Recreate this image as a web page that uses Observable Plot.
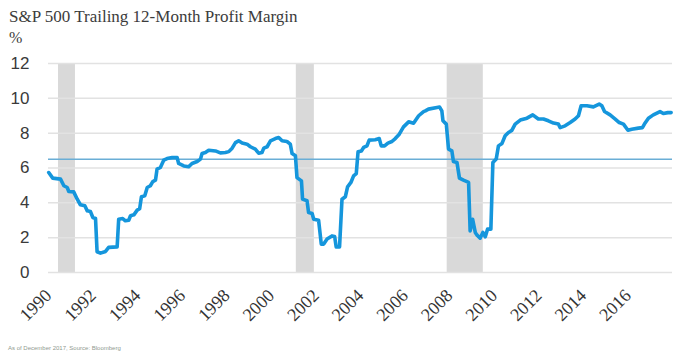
<!DOCTYPE html>
<html>
<head>
<meta charset="utf-8">
<script src="https://cdn.jsdelivr.net/npm/d3@7"></script>
<script src="https://cdn.jsdelivr.net/npm/@observablehq/plot@0.6"></script>
<style>
  html, body { margin: 0; padding: 0; background: #fff; }
  #wrap { width: 698px; height: 356px; position: relative; overflow: hidden; }
  #head { height: 48px; padding-left: 9px; font-family: "Liberation Serif", serif; color: #3c3c3c; }
  #title { font-size: 17px; line-height: 16px; padding-top: 9px; }
  #unit { font-size: 16px; line-height: 16px; padding-top: 5px; }
  #note { font-family: "Liberation Sans", sans-serif; font-size: 6px; color: #8f9a8f; padding-left: 8px; padding-top: 6px; line-height: 8px; }
  svg { display: block; }
</style>
</head>
<body>
<div id="wrap">
  <div id="head"><div id="title"></div><div id="unit"></div></div>
  <div id="chart"></div>
  <div id="note"></div>
</div>
<script>
const titleText = "S&P 500 Trailing 12-Month Profit Margin";
const unitText = "%";
const noteText = "As of December 2017, Source: Bloomberg";

const years = [
  1990.01, 1990.19, 1990.54, 1990.69, 1990.84, 1990.91, 1991.13, 1991.29, 1991.43, 1991.63,
  1991.74, 1991.88, 1991.99, 1992.11, 1992.18, 1992.33, 1992.56, 1992.70, 1993.08, 1993.15,
  1993.33, 1993.45, 1993.60, 1993.68, 1993.83, 1993.98, 1994.09, 1994.17, 1994.32, 1994.43,
  1994.57, 1994.68, 1994.80, 1994.87, 1995.02, 1995.17, 1995.32, 1995.55, 1995.77, 1995.84,
  1996.07, 1996.29, 1996.44, 1996.67, 1996.82, 1996.89, 1997.04, 1997.19, 1997.49, 1997.71,
  1997.94, 1998.09, 1998.24, 1998.39, 1998.53, 1998.69, 1998.91, 1999.06, 1999.28, 1999.43,
  1999.58, 1999.66, 1999.81, 1999.96, 2000.18, 2000.33, 2000.48, 2000.70, 2000.85, 2000.93,
  2001.08, 2001.15, 2001.35, 2001.40, 2001.60, 2001.67, 2001.83, 2001.90, 2002.12, 2002.24,
  2002.35, 2002.50, 2002.72, 2002.84, 2002.91, 2003.06, 2003.17, 2003.32, 2003.42, 2003.57,
  2003.69, 2003.81, 2003.89, 2004.04, 2004.14, 2004.29, 2004.39, 2004.66, 2004.84, 2004.93,
  2005.08, 2005.23, 2005.41, 2005.56, 2005.74, 2005.93, 2006.16, 2006.38, 2006.61, 2006.83,
  2006.91, 2007.05, 2007.43, 2007.55, 2007.65, 2007.70, 2007.85, 2007.95, 2008.10, 2008.17,
  2008.33, 2008.44, 2008.62, 2008.85, 2008.92, 2009.03, 2009.15, 2009.22, 2009.37, 2009.49,
  2009.60, 2009.70, 2009.85, 2009.94, 2010.09, 2010.19, 2010.35, 2010.49, 2010.64, 2010.79,
  2010.94, 2011.17, 2011.47, 2011.73, 2011.98, 2012.21, 2012.43, 2012.66, 2012.88, 2012.96,
  2013.18, 2013.41, 2013.63, 2013.78, 2013.90, 2014.16, 2014.45, 2014.71, 2014.83, 2014.95,
  2015.20, 2015.43, 2015.61, 2015.80, 2016.00, 2016.17, 2016.47, 2016.65, 2016.74, 2016.92,
  2017.14, 2017.44, 2017.59, 2017.79, 2017.94
];
const margins = [
  5.74, 5.42, 5.36, 4.98, 4.88, 4.65, 4.63, 4.21, 3.89, 3.83,
  3.54, 3.50, 3.16, 3.10, 1.19, 1.11, 1.21, 1.44, 1.47, 3.06,
  3.10, 2.97, 3.00, 3.26, 3.31, 3.58, 3.66, 4.35, 4.40, 4.88,
  4.98, 5.22, 5.30, 5.93, 6.03, 6.45, 6.54, 6.60, 6.60, 6.26,
  6.12, 6.07, 6.26, 6.37, 6.51, 6.83, 6.89, 7.02, 6.98, 6.87,
  6.89, 6.94, 7.14, 7.46, 7.56, 7.43, 7.37, 7.22, 7.08, 6.85,
  6.89, 7.14, 7.22, 7.56, 7.69, 7.75, 7.56, 7.52, 7.37, 6.83,
  6.70, 5.45, 5.26, 4.21, 4.12, 3.44, 3.39, 3.06, 3.00, 1.63,
  1.63, 1.92, 2.10, 2.07, 1.47, 1.47, 4.21, 4.35, 4.92, 5.17,
  5.55, 5.68, 6.93, 6.98, 7.18, 7.27, 7.60, 7.62, 7.69, 7.27,
  7.27, 7.43, 7.52, 7.69, 7.94, 8.36, 8.65, 8.57, 9.00, 9.24,
  9.28, 9.38, 9.47, 9.50, 9.28, 8.71, 8.52, 7.08, 6.98, 6.37,
  6.31, 5.42, 5.30, 5.17, 2.39, 3.06, 2.30, 2.16, 1.97, 2.30,
  2.05, 2.49, 2.49, 6.31, 6.51, 7.27, 7.41, 7.85, 8.04, 8.16,
  8.52, 8.75, 8.86, 9.05, 8.81, 8.81, 8.71, 8.58, 8.52, 8.32,
  8.42, 8.61, 8.81, 9.00, 9.57, 9.57, 9.51, 9.67, 9.57, 9.24,
  9.05, 8.81, 8.61, 8.52, 8.17, 8.23, 8.29, 8.32, 8.52, 8.86,
  9.05, 9.24, 9.13, 9.18, 9.18
];
const recessionStart = [1990.45, 2001.12, 2007.89];
const recessionEnd = [1991.21, 2001.93, 2009.51];
const averageMargin = [6.5];
const yTicks = [0, 2, 4, 6, 8, 10, 12];
const xTickYears = [1990, 1992, 1994, 1996, 1998, 2000, 2002, 2004, 2006, 2008, 2010, 2012, 2014, 2016];

const series = years.map((y, i) => ({year: y, margin: margins[i]}));
const recessions = recessionStart.map((s, i) => ({start: s, end: recessionEnd[i]}));

document.getElementById("title").textContent = titleText;
document.getElementById("unit").textContent = unitText;
document.getElementById("note").textContent = noteText;

const chart = Plot.plot({
  width: 698,
  height: 290,
  marginLeft: 48,
  marginRight: 26,
  marginTop: 15,
  marginBottom: 66,
  style: {background: "white", overflow: "visible"},
  x: {domain: [1990, 2018]},
  y: {domain: [0, 12]},
  marks: [
    Plot.rect(recessions, {x1: "start", x2: "end", fill: "#d9d9d9"}),
    Plot.ruleY(yTicks, {stroke: "#e2e2e2", strokeWidth: 1.5}),
    Plot.ruleY(averageMargin, {stroke: "#6aaed6", strokeWidth: 1.6}),
    Plot.line(series, {x: "year", y: "margin", stroke: "#1596dc", strokeWidth: 3.6, strokeLinejoin: "round", strokeLinecap: "round"}),
    Plot.axisY(yTicks, {label: null, tickSize: 0, tickPadding: 19, fontSize: 17, fontFamily: "Liberation Sans, sans-serif", fill: "#3a3a3a", tickFormat: d => String(d)}),
    Plot.axisX(xTickYears, {label: null, tickSize: 0, tickPadding: 20, tickRotate: -45, fontSize: 18, fontFamily: "Liberation Serif, serif", fill: "#333", tickFormat: d => String(d)})
  ]
});
document.getElementById("chart").appendChild(chart);
</script>
</body>
</html>
